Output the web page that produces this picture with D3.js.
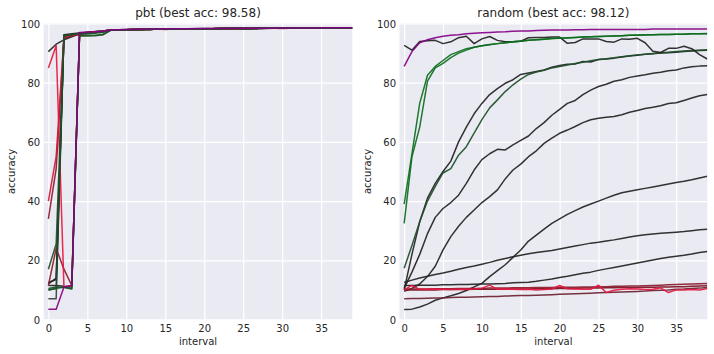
<!DOCTYPE html>
<html><head><meta charset="utf-8">
<script src="https://cdn.jsdelivr.net/npm/d3@7"></script>
<style>
body{margin:0;background:#fff}
svg{display:block}
text{font-family:"DejaVu Sans",sans-serif;fill:#262626}
</style>
</head><body>
<svg id="c" width="714" height="354"></svg>
<script>
// ---------- data ----------
const intervals = [0,1,2,3,4,5,6,7,8,9,10,11,12,13,14,15,16,17,18,19,20,21,22,23,24,25,26,27,28,29,30,31,32,33,34,35,36,37,38,39];
const xTicks = [0,5,10,15,20,25,30,35];
const yTicks = [0,20,40,60,80,100];
const titles = ["pbt (best acc: 98.58)", "random (best acc: 98.12)"];

// pbt workers
const pBlackTop = [90.5,93.0,94.5,95.5,96.5,97.0,97.3,97.5,97.9,97.9,98.0,98.0,98.1,98.1,98.1,98.2,98.1,98.2,98.2,98.2,98.3,98.2,98.3,98.3,98.3,98.4,98.3,98.4,98.4,98.4,98.4,98.5,98.4,98.5,98.5,98.5,98.5,98.6,98.5,98.5];
const pGray     = [7.0,7.0,96.0,96.3,96.7,97.0,97.2,97.4,97.8,97.9,97.9,98.0,98.0,98.1,98.1,98.1,98.1,98.2,98.2,98.2,98.2,98.2,98.3,98.3,98.3,98.3,98.3,98.4,98.4,98.4,98.4,98.4,98.4,98.5,98.5,98.5,98.5,98.5,98.5,98.5];
const pBlack2   = [12.5,13.5,96.2,96.5,96.8,97.0,97.2,97.5,97.8,97.9,97.9,98.0,98.0,98.1,98.1,98.1,98.1,98.2,98.2,98.2,98.2,98.2,98.3,98.3,98.3,98.3,98.3,98.4,98.4,98.4,98.4,98.4,98.4,98.5,98.5,98.5,98.5,98.5,98.5,98.5];
const pBlack3   = [11.5,11.5,11.2,11.0,96.5,96.8,97.0,97.3,97.8,97.9,97.9,98.0,98.0,98.1,98.1,98.1,98.1,98.2,98.2,98.2,98.2,98.2,98.3,98.3,98.3,98.3,98.3,98.4,98.4,98.4,98.4,98.4,98.4,98.5,98.5,98.5,98.5,98.5,98.5,98.5];
const pBlack4   = [12.0,14.0,95.8,96.2,96.6,96.9,97.1,97.4,97.8,97.8,97.9,98.0,98.0,98.0,98.1,98.1,98.1,98.1,98.2,98.2,98.2,98.2,98.2,98.3,98.3,98.3,98.3,98.3,98.4,98.4,98.4,98.4,98.4,98.4,98.5,98.5,98.5,98.5,98.5,98.5];
const pCrimson  = [85.0,92.5,11.0,11.5,96.8,97.0,97.2,97.4,97.8,97.9,97.9,98.0,98.0,98.0,98.1,98.1,98.1,98.2,98.1,98.2,98.2,98.2,98.2,98.3,98.3,98.3,98.3,98.3,98.4,98.4,98.4,98.4,98.4,98.4,98.5,98.5,98.5,98.5,98.5,98.5];
const pRed      = [40.0,55.0,95.5,96.0,96.5,96.8,97.0,97.3,97.8,97.8,97.9,98.0,98.0,98.1,98.1,98.0,98.1,98.1,98.2,98.2,98.2,98.2,98.3,98.3,98.2,98.3,98.3,98.4,98.4,98.4,98.3,98.4,98.4,98.5,98.5,98.4,98.5,98.5,98.5,98.5];
const pDarkRed  = [34.0,51.0,95.0,95.8,96.3,96.7,97.0,97.3,97.7,97.8,97.9,97.9,98.0,98.0,98.1,98.1,98.1,98.1,98.2,98.2,98.2,98.3,98.3,98.3,98.3,98.3,98.4,98.4,98.4,98.4,98.4,98.4,98.5,98.5,98.5,98.5,98.5,98.5,98.5,98.5];
const pDarkRed2 = [11.5,24.0,17.0,11.5,96.5,96.8,97.0,97.3,97.8,97.9,97.9,98.0,98.0,98.1,98.1,98.1,98.1,98.2,98.2,98.2,98.2,98.2,98.3,98.3,98.3,98.3,98.3,98.4,98.4,98.4,98.4,98.4,98.4,98.5,98.5,98.5,98.5,98.5,98.5,98.5];
const pGreen    = [17.0,25.5,95.8,96.2,96.5,96.5,96.8,97.0,97.7,97.8,97.9,98.0,98.0,98.0,98.1,98.1,98.1,98.2,98.2,98.2,98.2,98.2,98.3,98.3,98.3,98.3,98.3,98.4,98.4,98.4,98.4,98.4,98.4,98.5,98.5,98.5,98.5,98.5,98.5,98.5];
const pGreenA   = [10.0,10.5,11.0,10.5,96.0,96.0,96.0,96.3,97.8,97.9,97.9,98.0,98.0,98.0,98.1,98.1,98.1,98.1,98.2,98.2,98.2,98.2,98.2,98.3,98.3,98.3,98.3,98.3,98.4,98.4,98.4,98.4,98.4,98.4,98.4,98.5,98.5,98.5,98.5,98.5];
const pGreenB   = [10.5,11.0,10.8,10.3,95.8,95.8,95.9,96.2,97.7,97.8,97.9,97.9,98.0,98.0,98.1,98.1,98.1,98.1,98.2,98.2,98.2,98.2,98.2,98.3,98.3,98.3,98.3,98.3,98.3,98.4,98.4,98.4,98.4,98.4,98.4,98.5,98.5,98.5,98.5,98.5];
const pGreenC   = [10.0,10.5,96.0,96.3,96.6,96.8,97.0,97.3,97.8,97.9,97.9,98.0,98.0,98.1,98.1,98.1,98.1,98.1,98.2,98.2,98.2,98.2,98.3,98.3,98.3,98.3,98.3,98.4,98.4,98.4,98.4,98.4,98.4,98.5,98.5,98.5,98.5,98.5,98.5,98.5];
const pPurple   = [3.5,3.5,11.0,11.5,97.0,97.1,97.2,97.4,97.8,97.9,98.0,98.0,98.1,98.1,98.1,98.2,98.2,98.2,98.2,98.3,98.3,98.3,98.3,98.3,98.4,98.4,98.4,98.4,98.4,98.4,98.5,98.5,98.5,98.5,98.5,98.5,98.6,98.6,98.6,98.6];

// random-search workers
const rBlackTop = [92.6,91.0,93.9,94.2,94.3,93.2,93.8,95.2,95.7,93.2,94.8,95.6,94.3,93.8,93.8,94.0,95.2,95.3,95.3,95.4,95.4,93.3,93.6,94.8,94.8,94.8,93.9,93.7,94.8,94.7,95.0,93.5,90.6,90.2,91.6,91.6,92.3,91.5,89.5,88.0];
const rBlackA   = [10.0,22.0,33.0,41.0,46.0,50.0,53.5,60.0,65.0,69.5,73.0,76.0,78.0,79.8,81.0,82.8,83.3,83.8,84.3,85.2,85.8,86.2,86.3,87.2,87.0,87.8,88.0,88.3,88.7,89.0,89.3,89.6,89.8,90.0,90.1,90.3,90.5,90.7,90.9,91.0];
const rBlackC   = [10.5,16.0,22.0,29.0,34.5,37.5,39.5,42.0,46.0,50.5,54.0,56.0,57.5,57.3,59.0,60.5,62.0,64.5,66.5,69.0,71.0,73.0,74.0,76.0,77.5,78.7,79.5,80.5,81.0,81.8,82.3,82.7,83.2,83.5,84.0,84.3,85.0,85.4,85.6,85.7];
const rBlackD   = [9.5,10.5,12.0,14.5,18.0,23.5,28.0,31.5,34.5,37.0,39.5,41.5,43.8,47.5,50.5,52.5,55.0,57.0,59.5,61.3,62.9,64.0,65.2,66.5,67.5,68.0,68.3,68.6,69.2,70.0,70.6,71.3,71.7,72.2,73.0,73.2,74.0,74.8,75.6,76.0];
const rBlackE   = [3.4,3.5,4.2,5.2,6.5,7.3,8.0,8.8,9.8,11.0,12.2,14.5,16.5,18.5,21.0,23.5,26.5,28.5,30.5,32.5,34.0,35.5,36.8,38.0,39.0,40.0,41.0,42.0,42.8,43.3,43.8,44.3,44.8,45.3,45.8,46.3,46.7,47.2,47.8,48.4];
const rBlackF   = [12.5,13.3,14.0,14.6,15.2,15.7,16.3,17.0,17.6,18.1,18.7,19.3,20.0,20.6,21.2,21.7,22.2,22.6,23.0,23.3,23.8,24.3,24.8,25.3,25.8,26.1,26.5,26.9,27.4,27.9,28.3,28.6,28.9,29.1,29.3,29.5,29.7,30.0,30.3,30.5];
const rBlackG   = [11.5,11.5,11.6,11.6,11.6,11.7,11.7,11.8,11.8,11.9,12.0,12.0,12.1,12.2,12.4,12.5,12.6,12.9,13.3,13.7,14.2,14.6,15.1,15.6,16.0,16.6,17.1,17.6,18.1,18.6,19.1,19.6,20.1,20.6,21.0,21.4,21.7,22.1,22.6,23.0];
const rGreen1   = [32.5,55.0,65.0,80.5,85.0,86.5,88.5,90.0,91.0,92.0,92.5,92.8,93.2,93.5,93.8,94.0,94.3,94.5,94.7,94.9,95.0,95.1,95.3,95.4,95.5,95.6,95.7,95.8,95.9,96.0,96.0,96.1,96.2,96.3,96.3,96.4,96.4,96.5,96.5,96.5];
const rGreen2   = [39.0,56.0,73.0,82.5,85.5,87.5,89.5,90.5,91.5,92.0,92.5,92.9,93.2,93.5,93.8,94.1,94.3,94.5,94.7,94.9,95.1,95.2,95.3,95.4,95.5,95.6,95.7,95.8,95.9,96.0,96.1,96.2,96.2,96.3,96.3,96.4,96.4,96.5,96.5,96.6];
const rGreenB   = [17.3,25.0,33.0,40.0,45.0,49.5,51.0,55.5,58.4,63.0,67.5,71.5,74.2,77.0,79.3,81.2,82.8,83.6,84.2,85.0,85.5,86.0,86.5,86.9,87.4,87.8,88.1,88.4,88.8,89.1,89.4,89.6,89.9,90.1,90.3,90.5,90.7,90.9,91.0,91.1];
const rPurple   = [85.5,90.5,93.5,94.5,95.2,95.7,96.0,96.2,96.5,96.7,96.9,97.0,97.1,97.2,97.4,97.5,97.5,97.6,97.7,97.8,97.8,97.8,97.9,97.9,98.0,98.0,98.0,98.0,98.0,98.0,98.0,98.0,98.1,98.1,98.1,98.1,98.1,98.1,98.1,98.1];
const rMaroon   = [7.0,7.1,7.1,7.2,7.3,7.3,7.4,7.5,7.5,7.6,7.7,7.8,7.8,7.9,8.0,8.1,8.1,8.2,8.3,8.4,8.5,8.6,8.7,8.8,8.9,9.0,9.1,9.2,9.3,9.4,9.5,9.6,9.8,9.9,10.0,10.2,10.3,10.5,10.6,10.8];
const rDarkRed  = [10.3,10.3,10.3,10.3,10.4,10.4,10.4,10.5,10.5,10.5,10.5,10.6,10.6,10.6,10.7,10.7,10.7,10.8,10.8,10.8,10.9,10.9,10.9,11.0,11.0,11.1,11.1,11.2,11.2,11.3,11.3,11.4,11.5,11.6,11.7,11.8,11.9,12.0,12.1,12.2];
const rDarkRed2 = [10.0,10.0,10.0,10.0,10.0,10.1,10.1,10.1,10.1,10.2,10.2,10.2,10.2,10.3,10.3,10.3,10.3,10.4,10.4,10.4,10.5,10.5,10.5,10.6,10.6,10.6,10.7,10.7,10.8,10.8,10.8,10.9,10.9,11.0,11.0,11.1,11.1,11.2,11.3,11.4];
const rCrimson  = [10.0,11.5,10.2,10.2,10.3,10.2,10.1,10.2,10.2,10.3,10.6,11.6,10.2,10.3,10.2,10.1,10.2,10.0,10.1,10.3,11.5,10.4,10.3,10.2,10.2,11.6,9.1,9.9,10.2,10.4,10.3,10.1,10.2,10.7,9.1,10.0,10.0,10.1,10.0,10.5];

// colours
const C = {black:"#222222", gray:"#3c3c3c", green:"#0d6e1e", dkgreen:"#1e4f28", purple:"#850085",
           crimson:"#e8173f", red:"#d4163a", dkred:"#8a1a2c", maroon:"#6e2030", dkred2:"#7a0f1f"};

const pbtSeries = [
  [pGray,C.gray],[pBlack2,C.black],[pBlack4,C.black],[pBlack3,C.black],[pBlackTop,C.black],
  [pDarkRed2,C.dkred],[pDarkRed,C.dkred],[pRed,C.red],[pCrimson,C.crimson],
  [pGreenA,C.green],[pGreenB,C.dkgreen],[pGreen,C.dkgreen],[pGreenC,C.dkgreen],[pPurple,C.purple]
];
const randSeries = [
  [rBlackE,C.black],[rBlackF,C.black],[rBlackG,C.black],[rBlackD,C.black],[rBlackC,C.black],[rBlackA,C.black],
  [rGreenB,C.dkgreen],[rBlackTop,C.black],[rGreen1,C.green],[rGreen2,C.green],[rPurple,C.purple],
  [rMaroon,C.maroon],[rDarkRed2,C.dkred2],[rDarkRed,C.dkred],[rCrimson,C.crimson]
];

// ---------- drawing ----------
const svg = d3.select("#c");
const plotTop = 23.5, plotBottom = 319.5;
const panels = [
  {title:titles[0], left:43.7, right:352.3, series:pbtSeries},
  {title:titles[1], left:399.5, right:707.3, series:randSeries}
];

panels.forEach((p,k) => {
  const x = d3.scaleLinear().domain([-0.6,39]).range([p.left,p.right]);
  const y = d3.scaleLinear().domain([0,100]).range([plotBottom,plotTop]);
  const g = svg.append("g");
  g.append("rect").attr("x",p.left).attr("y",plotTop).attr("width",p.right-p.left).attr("height",plotBottom-plotTop).attr("fill","#EAEAF2");
  const clipId = "clip"+k;
  svg.append("clipPath").attr("id",clipId).append("rect")
     .attr("x",p.left).attr("y",plotTop).attr("width",p.right-p.left).attr("height",plotBottom-plotTop);

  const gx = g.append("g").attr("transform",`translate(0,${plotBottom})`)
    .call(d3.axisBottom(x).tickValues(xTicks).tickSize(-(plotBottom-plotTop)).tickFormat(d3.format("d")));
  const gy = g.append("g").attr("transform",`translate(${p.left},0)`)
    .call(d3.axisLeft(y).tickValues(yTicks).tickSize(-(p.right-p.left)).tickFormat(d3.format("d")));
  [gx,gy].forEach(a => {
    a.select(".domain").remove();
    a.selectAll(".tick line").attr("stroke","#fff").attr("stroke-width",1.2);
    a.selectAll(".tick text").attr("fill","#262626").style("font-size","10px").style("font-family","DejaVu Sans, sans-serif");
  });
  gx.selectAll(".tick text").attr("dy",null).attr("y",12.5);
  gy.selectAll(".tick text").attr("x",-3.5).attr("dy","0.35em");

  const line = d3.line().x((d,i)=>x(intervals[i])).y(d=>y(d));
  const lg = g.append("g").attr("clip-path",`url(#${clipId})`);
  p.series.forEach(([vals,col]) => {
    lg.append("path").attr("d",line(vals)).attr("fill","none")
      .attr("stroke",col).attr("stroke-width",1.5).attr("stroke-opacity",0.92)
      .attr("stroke-linejoin","round").attr("stroke-linecap","butt");
  });

  const cx = (p.left+p.right)/2;
  svg.append("text").attr("x",cx).attr("y",16.5).attr("text-anchor","middle").style("font-size","12px").text(p.title);
  svg.append("text").attr("x",cx).attr("y",345).attr("text-anchor","middle").style("font-size","10px").text("interval");
  svg.append("text").attr("transform",`translate(${p.left-28.5},${(plotTop+plotBottom)/2}) rotate(-90)`)
     .attr("text-anchor","middle").style("font-size","10px").text("accuracy");
});
</script>
</body></html>
